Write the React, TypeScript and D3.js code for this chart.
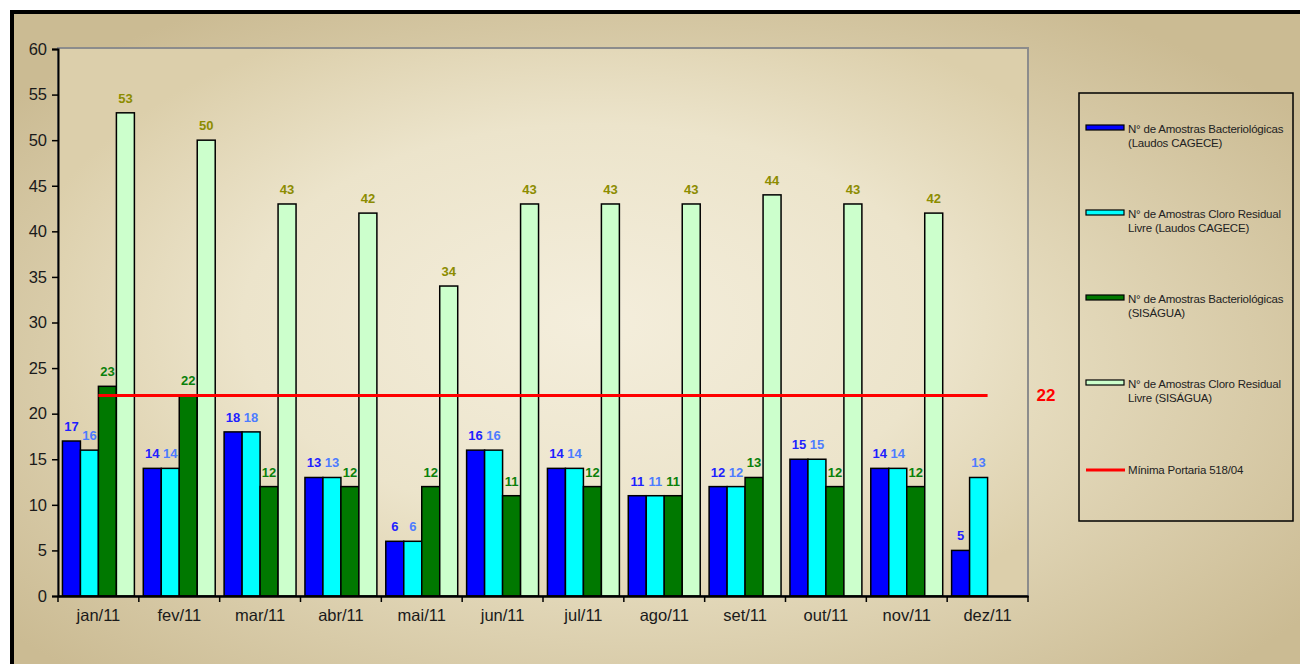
import React, {useRef, useEffect} from 'react';
import * as d3 from 'd3';

const months = ['jan/11', 'fev/11', 'mar/11', 'abr/11', 'mai/11', 'jun/11', 'jul/11', 'ago/11', 'set/11', 'out/11', 'nov/11', 'dez/11'];
const bactCagece = [17, 14, 18, 13, 6, 16, 14, 11, 12, 15, 14, 5];
const cloroCagece = [16, 14, 18, 13, 6, 16, 14, 11, 12, 15, 14, 13];
const bactSisagua = [23, 22, 12, 12, 12, 11, 12, 11, 13, 12, 12, null];
const cloroSisagua = [53, 50, 43, 42, 34, 43, 43, 43, 44, 43, 42, null];
const minimo = 22;
const yTicks = [0, 5, 10, 15, 20, 25, 30, 35, 40, 45, 50, 55, 60];

const series = [
  {name: ['N° de Amostras Bacteriológicas', '(Laudos CAGECE)'], values: bactCagece, fill: '#0000ff', label: '#1f1fff'},
  {name: ['N° de Amostras Cloro Residual', 'Livre (Laudos CAGECE)'], values: cloroCagece, fill: '#00ffff', label: '#4d7cff'},
  {name: ['N° de Amostras Bacteriológicas', '(SISÁGUA)'], values: bactSisagua, fill: '#007800', label: '#0a800a'},
  {name: ['N° de Amostras Cloro Residual', 'Livre (SISÁGUA)'], values: cloroSisagua, fill: '#ccffcc', label: '#8c8c00'},
];

function App() {
  const canvas = useRef<HTMLDivElement>(null);

  const width = 1300;
  const height = 664;
  const plot = {left: 58, top: 48, right: 1028, bottom: 596};
  const font = '"Liberation Sans", Arial, sans-serif';

  useEffect(() => {
    const root = d3.select(canvas.current);
    root.selectAll('*').remove();

    const svg = root.append('svg')
      .attr('width', width)
      .attr('height', height)
      .style('position', 'absolute')
      .style('left', 0)
      .style('top', 0)
      .style('font-family', font);

    const defs = svg.append('defs');
    const bg = defs.append('radialGradient').attr('id', 'bg')
      .attr('cx', '48%').attr('cy', '52%').attr('r', '62%');
    bg.append('stop').attr('offset', '0%').attr('stop-color', '#f3eddb');
    bg.append('stop').attr('offset', '40%').attr('stop-color', '#e9e0c4');
    bg.append('stop').attr('offset', '100%').attr('stop-color', '#cbbb93');

    const plotBg = defs.append('radialGradient').attr('id', 'plotbg')
      .attr('cx', '55%').attr('cy', '50%').attr('r', '60%');
    plotBg.append('stop').attr('offset', '0%').attr('stop-color', '#f4eedc');
    plotBg.append('stop').attr('offset', '60%').attr('stop-color', '#ece4cb');
    plotBg.append('stop').attr('offset', '100%').attr('stop-color', '#dccfab');

    svg.append('rect').attr('width', width).attr('height', height).attr('fill', '#ffffff');
    svg.append('rect')
      .attr('x', 12).attr('y', 12)
      .attr('width', width + 20).attr('height', height + 20)
      .attr('fill', 'url(#bg)')
      .attr('stroke', '#000').attr('stroke-width', 4);

    const xScale = d3.scaleBand()
      .domain(months)
      .range([plot.left, plot.right])
      .paddingInner(0.11)
      .paddingOuter(0.055);

    const inner = d3.scaleBand()
      .domain(series.map((s, i) => String(i)))
      .range([0, xScale.bandwidth()]);

    const yScale = d3.scaleLinear()
      .domain([0, 60])
      .range([plot.bottom, plot.top + 1]);

    // plot area
    svg.append('rect')
      .attr('x', plot.left).attr('y', plot.top)
      .attr('width', plot.right - plot.left).attr('height', plot.bottom - plot.top)
      .attr('fill', 'url(#plotbg)')
      .attr('stroke', '#8c8c8c').attr('stroke-width', 2);

    // bars
    series.forEach((s, i) => {
      const g = svg.append('g');
      s.values.forEach((v, j) => {
        if (v === null) return;
        const x = xScale(months[j])! + inner(String(i))!;
        g.append('rect')
          .attr('x', x)
          .attr('y', yScale(v))
          .attr('width', inner.bandwidth())
          .attr('height', yScale(0) - yScale(v))
          .attr('fill', s.fill)
          .attr('stroke', '#000')
          .attr('stroke-width', 1.5);
      });
    });

    // minimum line
    const centers = d3.scalePoint()
      .domain(months)
      .range([plot.left + (plot.right - plot.left) / 24, plot.right - (plot.right - plot.left) / 24]);
    svg.append('line')
      .attr('x1', centers(months[0])!)
      .attr('x2', centers(months[months.length - 1])!)
      .attr('y1', yScale(minimo))
      .attr('y2', yScale(minimo))
      .attr('stroke', '#ff0000')
      .attr('stroke-width', 3);
    svg.append('text')
      .attr('x', 1046).attr('y', yScale(minimo) + 6)
      .attr('text-anchor', 'middle')
      .attr('font-size', 17).attr('font-weight', 'bold')
      .attr('fill', '#ff0000')
      .text(minimo);

    // value labels
    series.forEach((s, i) => {
      s.values.forEach((v, j) => {
        if (v === null) return;
        const x = xScale(months[j])! + inner(String(i))! + inner.bandwidth() / 2;
        svg.append('text')
          .attr('x', x)
          .attr('y', yScale(v) - 10)
          .attr('text-anchor', 'middle')
          .attr('font-size', 13)
          .attr('font-weight', 'bold')
          .attr('fill', s.label)
          .text(v);
      });
    });

    // axes
    const yAxis = svg.append('g')
      .attr('transform', `translate(${plot.left}, 0)`)
      .call(d3.axisLeft(yScale).tickValues(yTicks).tickSize(6).tickPadding(5));
    yAxis.select('.domain').attr('stroke', '#000').attr('stroke-width', 2);
    yAxis.selectAll('.tick line').attr('stroke', '#000').attr('stroke-width', 1.5);
    yAxis.selectAll('.tick text')
      .attr('font-size', 16.5).attr('fill', '#1a1a1a')
      .attr('font-family', font);

    const xAxis = svg.append('g')
      .attr('transform', `translate(0, ${plot.bottom})`)
      .call(d3.axisBottom(xScale).tickSize(0).tickPadding(13));
    xAxis.select('.domain').attr('stroke', '#000').attr('stroke-width', 2.5);
    xAxis.selectAll('.tick text')
      .attr('font-size', 16.5).attr('fill', '#1a1a1a')
      .attr('font-family', font);
    // boundary ticks
    const bounds = d3.range(months.length + 1).map(k => plot.left + k * (plot.right - plot.left) / months.length);
    svg.append('g').selectAll('line')
      .data(bounds)
      .enter()
        .append('line')
          .attr('x1', d => d).attr('x2', d => d)
          .attr('y1', plot.bottom).attr('y2', plot.bottom + 6)
          .attr('stroke', '#000').attr('stroke-width', 1.5);

    // legend
    const legend = svg.append('g');
    legend.append('rect')
      .attr('x', 1079).attr('y', 93)
      .attr('width', 214).attr('height', 428)
      .attr('fill', 'none')
      .attr('stroke', '#000').attr('stroke-width', 1.5);
    const legendY = [130, 215, 300, 385];
    series.forEach((s, i) => {
      legend.append('rect')
        .attr('x', 1086).attr('y', legendY[i] - 5)
        .attr('width', 38).attr('height', 5)
        .attr('fill', s.fill)
        .attr('stroke', '#000').attr('stroke-width', 1.2);
      s.name.forEach((line, k) => {
        legend.append('text')
          .attr('x', 1128).attr('y', legendY[i] + 3 + k * 14)
          .attr('font-size', 11.5)
          .attr('letter-spacing', -0.2)
          .attr('fill', '#222')
          .text(line);
      });
    });
    legend.append('line')
      .attr('x1', 1086).attr('x2', 1125)
      .attr('y1', 470).attr('y2', 470)
      .attr('stroke', '#ff0000').attr('stroke-width', 3);
    legend.append('text')
      .attr('x', 1128).attr('y', 474)
      .attr('font-size', 11.5)
      .attr('letter-spacing', -0.2)
      .attr('fill', '#222')
      .text('Mínima Portaria 518/04');
  });

  return <div className="d3-canvas" ref={canvas}></div>;
}

export default App;
